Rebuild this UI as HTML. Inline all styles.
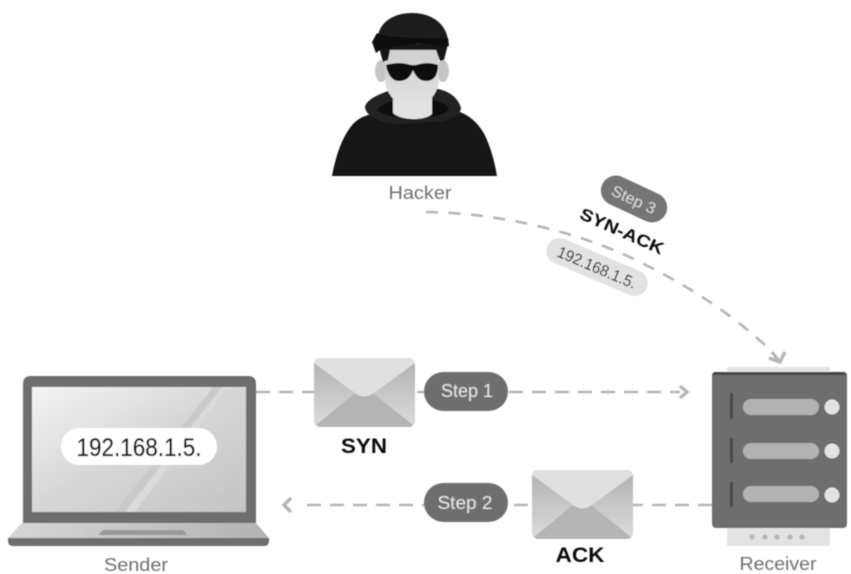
<!DOCTYPE html>
<html><head><meta charset="utf-8">
<style>html,body{margin:0;padding:0;background:#fff}svg{display:block}text{font-family:"Liberation Sans",sans-serif}</style>
</head><body>
<svg width="851" height="574" viewBox="0 0 851 574" xmlns="http://www.w3.org/2000/svg">
<defs>
<linearGradient id="scr" x1="0" y1="0" x2="1" y2="1"><stop offset="0" stop-color="#f4f4f4"/><stop offset=".5" stop-color="#d6d6d6"/><stop offset="1" stop-color="#c4c4c4"/></linearGradient>
<linearGradient id="env" x1="0" y1="0" x2="0" y2="1"><stop offset="0" stop-color="#b0b0b0"/><stop offset="1" stop-color="#dcdcdc"/></linearGradient>
<linearGradient id="base" x1="0" y1="0" x2="1" y2="0"><stop offset="0" stop-color="#d6d6d6"/><stop offset="1" stop-color="#b4b4b4"/></linearGradient>
<linearGradient id="face" x1="0" y1="0" x2="0" y2="1"><stop offset="0" stop-color="#cfcfcf"/><stop offset="1" stop-color="#e2e2e2"/></linearGradient>
<filter id="b" x="-5%" y="-5%" width="110%" height="110%"><feGaussianBlur stdDeviation="0.55"/></filter>
<g id="envelope">
<rect x="0" y="0" width="101" height="69" rx="6" fill="url(#env)"/>
<path d="M2 67 L40 36 Q50 30 60 36 L99 67 Q97 69 95 69 L6 69 Q4 69 2 67Z" fill="#b4b4b4"/>
<path d="M0 5 Q1 0 6 0 L95 0 Q100 0 101 5 L60 35 Q50 42 41 35Z" fill="#e0e0e0"/>
</g>
</defs>
<g filter="url(#b)">
<!-- connectors -->
<g fill="none" stroke="#b5b5b5" stroke-width="2.6">
<path d="M256 392 H680" stroke-dasharray="14 9"/>
<path d="M712 505 H298" stroke-dasharray="14 9"/>
<path d="M426 212 C500 213 580 232 640 262 C700 292 735 318 765 345" stroke-dasharray="12 10.5"/>
<path d="M772 352 L780 362" stroke-width="3"/>
<path d="M680 386 L687 392 L680 398" stroke-width="3.4"/>
<path d="M291 498 L284 505 L291 512" stroke-width="3.4"/>
<path d="M769 358 L780 362 L785 352" stroke-width="3.4"/>
</g>
<!-- hacker -->
<path d="M332 176 C336 155 342 137 353 124 C358 119 362 117 368 115 L460 112 C475 118 483 130 487 140 C492 152 495 164 497 176Z" fill="#181818"/>
<path d="M365 107 C366 100 378 94 392 90 L438 89 C448 91 458 97 461 108 C460 118 445 122 430 122 L400 124 C385 124 366 118 365 107Z" fill="#222"/>
<path d="M377 110 C382 104 390 101 398 100 L432 100 C442 102 448 105 449 110 C440 116 430 118 414 118 C398 118 385 116 377 110Z" fill="#0a0a0a"/>
<path d="M393 92 L393 113 C398 118 408 119 414 119 C420 119 428 118 432 114 L432 92Z" fill="#e2e2e2"/>
<ellipse cx="381" cy="71" rx="6" ry="11" fill="#c4c4c4"/>
<ellipse cx="443" cy="71" rx="6" ry="11" fill="#c4c4c4"/>
<path d="M385 50 L439 50 L439 80 C438 96 425 107 412 107 C399 107 386 96 385 80Z" fill="url(#face)"/>
<path d="M378 44 L383 62 L388 60 L390 50 L436 50 L440 61 L444 60 L448 44Z" fill="#161616"/>
<path d="M378 36 C380 22 394 13 412 13 C432 13 446 24 448 40 L449 46 C425 40 400 41 380 48Z" fill="#1a1a1a"/>
<path d="M372 42 L377 33 C385 38 420 38 448 38 L449 46 C440 48 430 43 415 44 C403 45 390 47 380 50 L376 53Z" fill="#0c0c0c"/>
<path d="M386 65 C395 62 405 63 411 65 L416 65 C423 63 430 62 438 65 C438 72 436 81 426 81 C419 81 415 75 413 70 C411 75 408 81 399 81 C391 81 387 72 386 65Z" fill="#0e0e0e"/>
<text x="420" y="199" font-size="18" fill="#6f6f6f" text-anchor="middle" textLength="63" lengthAdjust="spacingAndGlyphs">Hacker</text>
<!-- laptop -->
<path d="M23 523 V384 Q23 376 31 376 H248 Q256 376 256 384 V523Z" fill="#6e6e6e"/>
<rect x="32" y="387" width="214" height="125" fill="url(#scr)"/>
<path d="M115 512 L213 387 L222 387 L125 512Z" fill="#cacaca"/>
<path d="M125 512 L222 387 L228 387 L135 512Z" fill="#dadada"/>
<path d="M22 523 H256 L269 538 L8 538Z" fill="url(#base)"/>
<path d="M8 538 H269 V541 Q269 546 264 546 H13 Q8 546 8 541Z" fill="#6e6e6e"/>
<path d="M103 530 L183 530 L187 535 L98 535Z" fill="#999"/>
<rect x="61" y="428" width="156" height="37" rx="18.5" fill="#fff"/>
<text x="139" y="456" font-size="25" fill="#111" stroke="#111" stroke-width=".3" text-anchor="middle" textLength="125" lengthAdjust="spacingAndGlyphs">192.168.1.5.</text>
<text x="136" y="571" font-size="18" fill="#6f6f6f" text-anchor="middle" textLength="64" lengthAdjust="spacingAndGlyphs">Sender</text>
<!-- envelopes -->
<use href="#envelope" x="314" y="358"/>
<use href="#envelope" x="532" y="470"/>
<text x="364" y="453" font-size="21" font-weight="bold" fill="#111" text-anchor="middle" textLength="46" lengthAdjust="spacingAndGlyphs">SYN</text>
<text x="580" y="562" font-size="21" font-weight="bold" fill="#111" text-anchor="middle" textLength="49" lengthAdjust="spacingAndGlyphs">ACK</text>
<!-- step pills -->
<rect x="424" y="372" width="84" height="39" rx="19.5" fill="#6e6e6e"/>
<text x="467" y="397" font-size="18" fill="#e4e4e4" text-anchor="middle" textLength="52" lengthAdjust="spacingAndGlyphs">Step 1</text>
<rect x="424" y="483" width="84" height="39" rx="19.5" fill="#6e6e6e"/>
<text x="465" y="509" font-size="18" fill="#e4e4e4" text-anchor="middle" textLength="55" lengthAdjust="spacingAndGlyphs">Step 2</text>
<!-- rotated -->
<g transform="translate(634 199) rotate(25)">
<rect x="-35" y="-15" width="70" height="30" rx="15" fill="#757575"/>
<text x="0" y="6" font-size="15.5" fill="#dcdcdc" text-anchor="middle" textLength="47" lengthAdjust="spacingAndGlyphs">Step 3</text>
</g>
<g transform="translate(622 231) rotate(24)">
<text x="0" y="6" font-size="17" font-weight="bold" fill="#111" text-anchor="middle" textLength="90" lengthAdjust="spacingAndGlyphs">SYN-ACK</text>
</g>
<g transform="translate(597 267) rotate(23)">
<rect x="-54" y="-13" width="108" height="26" rx="13" fill="#e2e2e2"/>
<text x="0" y="6" font-size="16" fill="#111" text-anchor="middle" textLength="84" lengthAdjust="spacingAndGlyphs">192.168.1.5.</text>
</g>
<!-- server -->
<rect x="727" y="367" width="103" height="179" rx="2" fill="#e3e3e3"/>
<rect x="712" y="372" width="135" height="156" rx="4" fill="#6e6e6e"/>
<path d="M712 376 Q712 372 716 372 H843 Q847 372 847 376 V375 H712Z" fill="#444"/>
<g fill="#4a4a4a">
<rect x="730" y="393" width="3" height="26"/>
<rect x="730" y="438" width="3" height="25"/>
<rect x="730" y="482" width="3" height="25"/>
</g>
<g fill="#b2b2b2">
<rect x="743" y="399" width="76" height="16" rx="8"/>
<rect x="743" y="443" width="76" height="16" rx="8"/>
<rect x="743" y="486" width="76" height="16" rx="8"/>
</g>
<g fill="#e3e3e3">
<circle cx="832" cy="407" r="7.5"/>
<circle cx="832" cy="451" r="7.5"/>
<circle cx="832" cy="495" r="7.5"/>
</g>
<g fill="#b5b5b5">
<circle cx="752" cy="537" r="2.6"/><circle cx="765" cy="537" r="2.6"/><circle cx="777" cy="537" r="2.6"/><circle cx="790" cy="537" r="2.6"/><circle cx="802" cy="537" r="2.6"/>
</g>
<text x="778" y="570" font-size="18" fill="#6f6f6f" text-anchor="middle" textLength="77" lengthAdjust="spacingAndGlyphs">Receiver</text>
</g>
</svg>
</body></html>
